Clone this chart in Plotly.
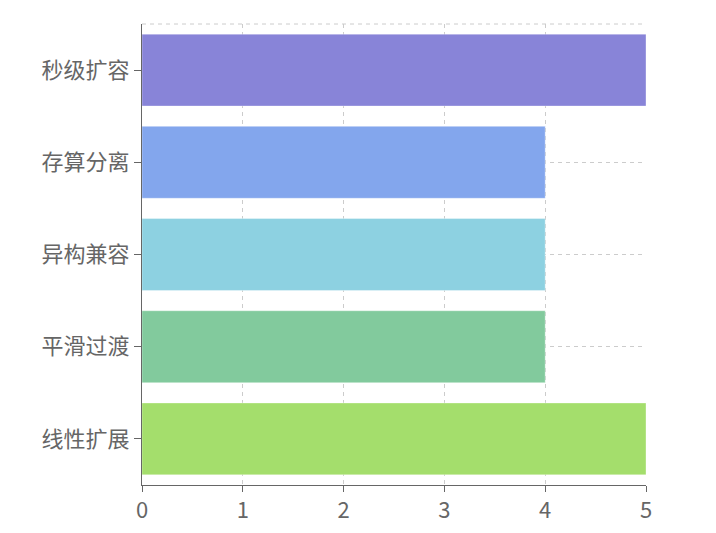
import plotly.graph_objects as go

categories = ['秒级扩容', '存算分离', '异构兼容', '平滑过渡', '线性扩展']
values = [5, 4, 4, 4, 5]
colors = ['#8884d8', '#83a6ed', '#8dd1e1', '#82ca9d', '#a4de6c']

font_family = 'Noto Sans CJK SC, Microsoft YaHei, sans-serif'

fig = go.Figure()
fig.add_trace(go.Bar(
    x=values,
    y=categories,
    orientation='h',
    marker=dict(color=colors, line=dict(color='rgba(255,255,255,0.35)', width=1)),
    showlegend=False,
))

# dashed top border of the grid
fig.add_shape(type='line', xref='x domain', yref='y domain',
              x0=0, x1=1, y0=1, y1=1,
              line=dict(color='#cccccc', width=1, dash='4px,4px'), layer='below')

# page body adds 8px, so margins are shifted to compensate
fig.update_layout(
    width=716, height=533,
    margin=dict(l=134, r=78, t=16, b=56),
    plot_bgcolor='white', paper_bgcolor='white',
    bargap=0.22,
    font=dict(family=font_family, size=22, color='#666666'),
)
fig.update_xaxes(
    range=[0, 5], dtick=1, tick0=0,
    showgrid=True, gridcolor='#cccccc', griddash='4px,4px', gridwidth=1,
    zeroline=False,
    showline=True, linecolor='#666666', linewidth=1,
    ticks='outside', ticklen=6, tickcolor='#666666',
    tickfont=dict(size=22, color='#666666'),
)
fig.update_yaxes(
    autorange='reversed',
    showgrid=True, gridcolor='#cccccc', griddash='4px,4px', gridwidth=1,
    showline=True, linecolor='#666666', linewidth=1,
    ticks='outside', ticklen=7, tickcolor='#666666',
    tickfont=dict(size=22, color='#666666'),
)

fig.write_html('out.html')
